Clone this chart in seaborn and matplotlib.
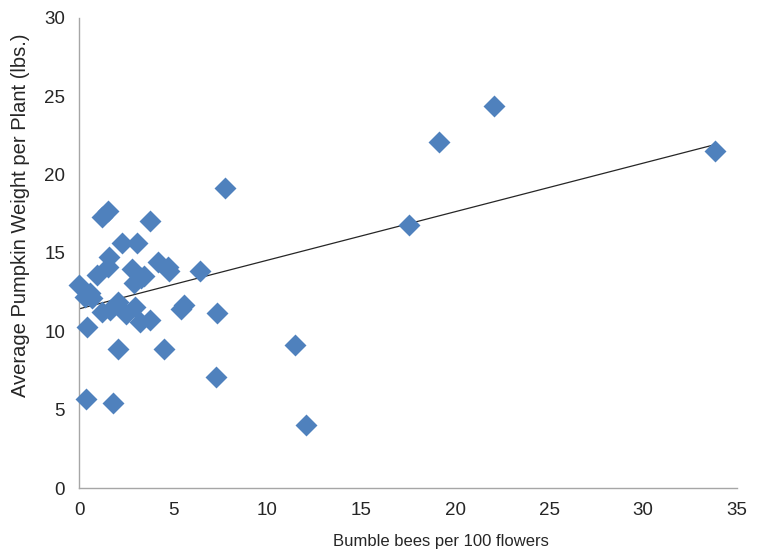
import numpy as np
import pandas as pd
import matplotlib
matplotlib.use('Agg')
import matplotlib.pyplot as plt
import seaborn as sns

# bumble bees per 100 flowers vs average pumpkin weight per plant (lbs.)
bees = [0.0, 0.3, 0.6, 0.7, 0.35, 0.4, 0.95, 1.2, 1.2, 1.55, 1.6, 1.55, 1.65, 1.8,
        2.1, 2.05, 2.3, 2.5, 2.8, 2.9, 3.0, 3.1, 3.25, 3.3, 3.45, 3.8, 3.8, 4.2,
        4.5, 4.75, 4.8, 5.45, 5.6, 6.45, 7.35, 7.3, 7.75, 11.5, 12.05, 17.55,
        19.15, 22.05, 33.8]
weight = [12.95, 12.2, 12.45, 12.15, 5.7, 10.3, 13.6, 11.25, 17.3, 17.65, 14.75, 14.1,
          11.35, 5.45, 11.9, 8.9, 15.65, 11.1, 14.0, 13.1, 11.55, 15.65, 10.6, 13.4,
          13.55, 17.05, 10.7, 14.45, 8.9, 14.1, 13.85, 11.4, 11.7, 13.85, 11.15, 7.1,
          19.15, 9.1, 4.0, 16.8, 22.1, 24.35, 21.5]

x_ticks = [0, 5, 10, 15, 20, 25, 30, 35]
y_ticks = [0, 5, 10, 15, 20, 25, 30]

df = pd.DataFrame({'bees': bees, 'weight': weight})

sns.set_style('white')
plt.rcParams['font.family'] = ['Liberation Sans', 'DejaVu Sans']

fig = plt.figure(figsize=(7.67, 5.56), dpi=100)
ax = fig.add_axes([0.103, 0.122, 0.858, 0.846])

sns.regplot(data=df, x='bees', y='weight', scatter=False, ci=None, truncate=True,
            line_kws=dict(color='#262626', lw=0.9), ax=ax)
sns.scatterplot(data=df, x='bees', y='weight', marker='D', s=125, color='#4F81BD',
                linewidth=0, clip_on=False, zorder=3, ax=ax)

ax.set_xlim(0, 35)
ax.set_ylim(0, 30)
ax.set_xticks(x_ticks)
ax.set_yticks(y_ticks)
ax.set_xlabel('Bumble bees per 100 flowers', fontsize=12, color='#262626')
ax.set_ylabel('Average Pumpkin Weight per Plant (lbs.)', fontsize=14.5, color='#262626')
ax.xaxis.set_label_coords(0.55, -0.097)
ax.yaxis.set_label_coords(-0.074, 0.58)

for side in ['top', 'right']:
    ax.spines[side].set_visible(False)
for side in ['left', 'bottom']:
    ax.spines[side].set_color('#A6A6A6')
    ax.spines[side].set_linewidth(1)
ax.tick_params(axis='both', direction='out', length=4, width=1, color='#A6A6A6',
               labelsize=13.5, labelcolor='#262626', pad=6)

fig.savefig('out.png', dpi=100)
